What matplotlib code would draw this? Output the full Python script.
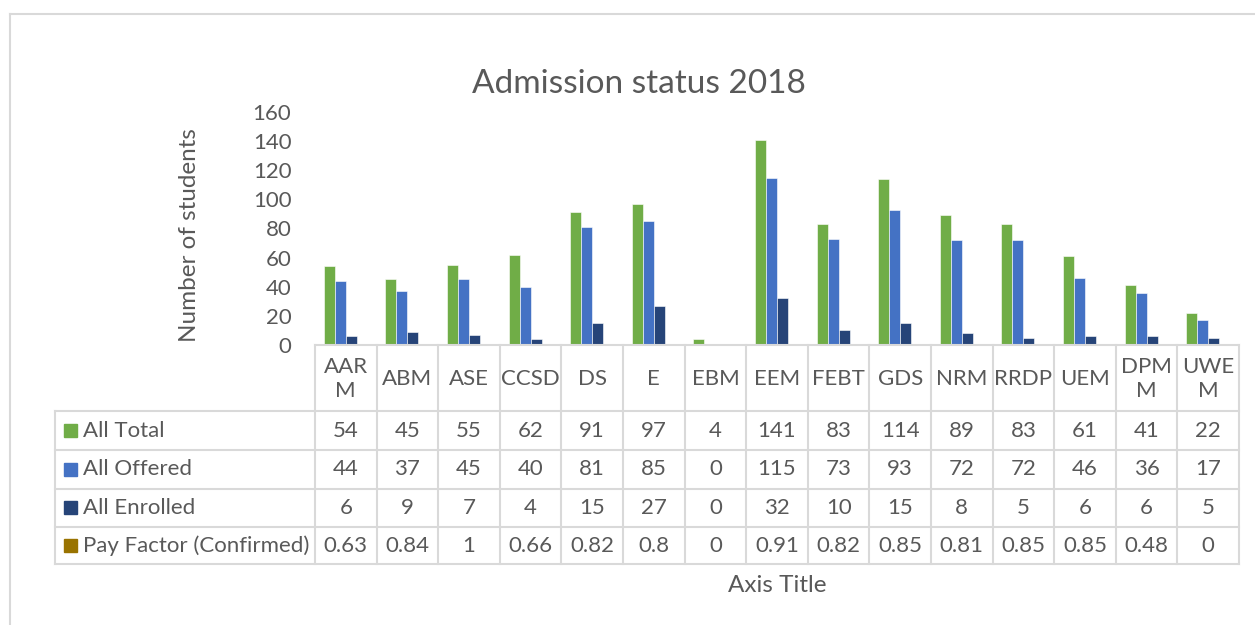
import matplotlib
matplotlib.use("Agg")
import matplotlib.pyplot as plt
from matplotlib.lines import Line2D
from matplotlib.patches import Rectangle
import numpy as np

# ---------------- data ----------------
categories = ["AARM", "ABM", "ASE", "CCSD", "DS", "E", "EBM", "EEM",
              "FEBT", "GDS", "NRM", "RRDP", "UEM", "DPMM", "UWEM"]
header_labels = ["AAR\nM", "ABM", "ASE", "CCSD", "DS", "E", "EBM", "EEM",
                 "FEBT", "GDS", "NRM", "RRDP", "UEM", "DPM\nM", "UWE\nM"]
all_total = [54, 45, 55, 62, 91, 97, 4, 141, 83, 114, 89, 83, 61, 41, 22]
all_offered = [44, 37, 45, 40, 81, 85, 0, 115, 73, 93, 72, 72, 46, 36, 17]
all_enrolled = [6, 9, 7, 4, 15, 27, 0, 32, 10, 15, 8, 5, 6, 6, 5]
pay_factor = [0.63, 0.84, 1, 0.66, 0.82, 0.8, 0, 0.91, 0.82, 0.85, 0.81,
              0.85, 0.85, 0.48, 0]
series_names = ["All Total", "All Offered", "All Enrolled",
                "Pay Factor (Confirmed)"]
series_values = [all_total, all_offered, all_enrolled, pay_factor]
colors = ["#70AD47", "#4472C4", "#264478", "#997300"]
yticks = [0, 20, 40, 60, 80, 100, 120, 140, 160]

# ---------------- style ----------------
plt.rcParams["font.family"] = ["Lato", "DejaVu Sans"]
TXT = "#595959"
GRID = "#D9D9D9"
FS = 16

W, H = 1255, 625
fig = plt.figure(figsize=(W / 100, H / 100), dpi=100)


def fx(px):
    return px / W


def fy(py):
    return 1 - py / H


# chart frame
fig.add_artist(Line2D([fx(10), fx(10)], [fy(14), 0], color=GRID, lw=1.5))
fig.add_artist(Line2D([fx(10), 1], [fy(14), fy(14)], color=GRID, lw=1.5))

# ---------------- bar plot ----------------
L, R, TOP, BOT = 315, 1239, 112, 345
ax = fig.add_axes([fx(L), fy(BOT), (R - L) / W, (BOT - TOP) / H])
n = len(categories)
x = np.arange(n)
bw = 0.179
for i, (vals, c) in enumerate(zip(series_values, colors)):
    ax.bar(x + (i - 1.5) * bw, vals, width=bw, color=c,
           edgecolor="white", linewidth=0.4, zorder=2)
ax.set_xlim(-0.5, n - 0.5)
ax.set_ylim(0, 160)
ax.set_yticks(yticks)
ax.set_xticks([])
for s in ax.spines.values():
    s.set_visible(False)
ax.tick_params(axis="y", length=0, pad=17, labelsize=FS, labelcolor=TXT)
ax.patch.set_alpha(0)

# title and axis titles
fig.text(fx(639), fy(84), "Admission status 2018", ha="center", va="center",
         fontsize=24, color=TXT)
fig.text(fx(190), fy(235), "Number of students", ha="center", va="center",
         rotation=90, fontsize=17.5, color=TXT)
fig.text(fx((L + R) / 2), fy(586), "Axis Title", ha="center", va="center",
         fontsize=17.5, color=TXT)

# ---------------- data table ----------------
TL = 55
rows_y = [345, 411, 450, 488.5, 527, 564]
tax = fig.add_axes([fx(TL), fy(564), (R - TL) / W, (564 - 345) / H])
tax.set_xlim(TL, R)
tax.set_ylim(564, 345)
tax.axis("off")
col_w = (R - L) / n
lw = 1.5
# horizontal lines
tax.plot([L, R], [rows_y[0], rows_y[0]], color=GRID, lw=lw, clip_on=False)
for yy in rows_y[1:]:
    tax.plot([TL, R], [yy, yy], color=GRID, lw=lw, clip_on=False)
# vertical lines
tax.plot([TL, TL], [rows_y[1], rows_y[-1]], color=GRID, lw=lw, clip_on=False)
for k in range(n + 1):
    xx = L + k * col_w
    tax.plot([xx, xx], [rows_y[0], rows_y[-1]], color=GRID, lw=lw, clip_on=False)

# header labels
for k, lab in enumerate(header_labels):
    tax.text(L + (k + 0.5) * col_w, (rows_y[0] + rows_y[1]) / 2 + 1, lab,
             ha="center", va="center", fontsize=FS, color=TXT,
             linespacing=1.2)

# rows
for r, (name, vals, c) in enumerate(zip(series_names, series_values, colors)):
    yc = (rows_y[r + 1] + rows_y[r + 2]) / 2
    tax.add_patch(Rectangle((64, yc - 6.5), 13, 13, color=c, clip_on=False))
    tax.text(83, yc, name, ha="left", va="center", fontsize=FS, color=TXT)
    for k, v in enumerate(vals):
        tax.text(L + (k + 0.5) * col_w, yc, "{:g}".format(v), ha="center",
                 va="center", fontsize=FS, color=TXT)

fig.savefig("out.png", dpi=100, facecolor="white")
